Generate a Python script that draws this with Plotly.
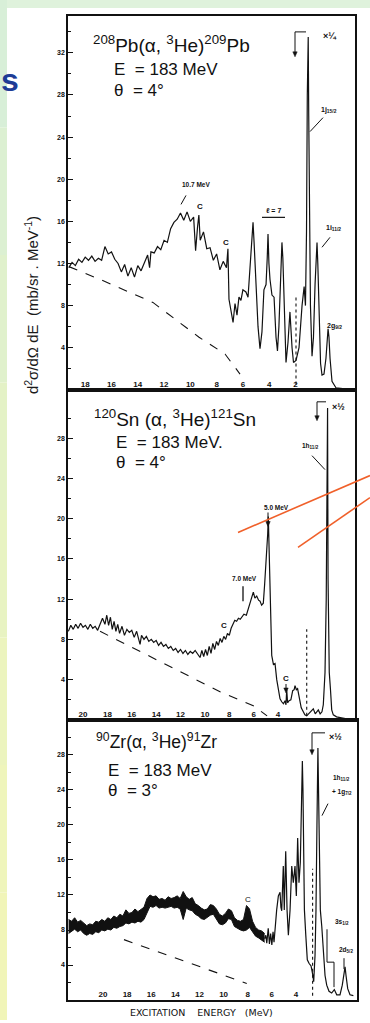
import plotly.graph_objects as go

W, H = 370, 1023
FONT = "Liberation Sans"
INK = "#111111"

# ---------------- data ----------------
# 208Pb(a,3He)209Pb : excitation energy (MeV) / cross section (mb/sr/MeV)
pb_energy = [19.25, 19.0, 18.75, 18.5, 18.25, 18.0, 17.75, 17.5, 17.25, 17.0,
             16.75, 16.5, 16.25, 16.0, 15.75, 15.5, 15.25, 15.0, 14.75, 14.5,
             14.25, 14.0, 13.75, 13.5, 13.25, 13.1, 13.0, 12.75, 12.5, 12.25,
             12.0, 11.75, 11.5, 11.25, 11.0, 10.75, 10.5, 10.25, 10.0, 9.75,
             9.6, 9.45, 9.35, 9.25, 9.0, 8.75, 8.5, 8.25, 8.0, 7.75,
             7.5, 7.25, 7.14, 7.06, 6.9, 6.75, 6.6, 6.45, 6.3, 6.15,
             6.0, 5.77, 5.61, 5.46, 5.30, 5.23, 5.15, 5.08, 4.85, 4.70,
             4.55, 4.40, 4.24, 4.15, 4.09, 4.02, 3.94, 3.79, 3.63, 3.48,
             3.37, 3.26, 3.10, 3.03, 2.96, 2.91, 2.80, 2.72, 2.57, 2.42,
             2.26, 2.15, 1.96, 1.73, 1.50, 1.34, 1.24, 1.16, 1.10, 1.07,
             1.03, 0.99, 0.94, 0.86, 0.74, 0.63, 0.51, 0.42, 0.36, 0.30,
             0.21, 0.09, -0.02, -0.17, -0.32, -0.42, -0.48, -0.55, -0.63, -0.78,
             -1.08, -1.77]
pb_sigma = [11.6, 12.1, 11.8, 12.4, 12.1, 12.6, 12.3, 12.7, 12.2, 12.5,
            12.3, 13.6, 12.9, 13.1, 12.4, 12.0, 11.2, 11.9, 10.8, 11.6,
            10.7, 11.8, 11.3, 12.0, 12.8, 11.6, 13.1, 13.0, 13.6, 13.3,
            14.2, 14.0, 15.3, 15.9, 16.2, 16.8, 16.1, 16.9, 16.0, 16.4,
            13.2, 15.5, 16.6, 14.2, 15.0, 13.4, 13.5, 12.3, 12.9, 11.4,
            12.2, 11.6, 13.4, 8.6, 7.6, 6.4, 8.2, 7.1, 8.8, 8.5,
            9.5, 9.3, 8.8, 12.0, 15.2, 15.9, 14.0, 12.0, 6.0, 3.9,
            5.5, 9.5, 10.0, 12.5, 14.8, 12.0, 10.5, 9.0, 8.8, 5.0,
            3.7, 6.0, 12.0, 14.0, 12.5, 10.0, 4.5, 2.6, 4.5, 7.4,
            4.0, 2.6, 2.8, 4.0, 8.0, 9.8, 8.0, 15.0, 28.0, 33.5,
            33.5, 26.0, 14.0, 8.0, 3.2, 5.0, 10.0, 13.0, 14.0, 12.0,
            8.0, 2.5, 1.4, 1.5, 3.0, 5.0, 5.8, 5.0, 3.0, 0.8,
            0.2, 0.1]
pb_bg_energy = [19.24, 16.9, 12.85, 9.34, 7.36, 6.22]
pb_bg_sigma = [11.7, 10.5, 8.3, 5.0, 3.4, 1.5]
pb_dotted_energy = [1.96, 1.96]
pb_dotted_sigma = [0.5, 8.8]

# 120Sn(a,3He)121Sn
sn_energy = [21.2, 21.0, 20.8, 20.6, 20.4, 20.2, 20.0, 19.8, 19.6, 19.4,
             19.2, 19.0, 18.8, 18.6, 18.4, 18.2, 18.05, 17.9, 17.75, 17.6,
             17.45, 17.3, 17.15, 17.0, 16.8, 16.6, 16.4, 16.2, 16.0, 15.8,
             15.6, 15.45, 15.32, 15.2, 15.0, 14.8, 14.6, 14.4, 14.2, 14.0,
             13.8, 13.6, 13.4, 13.2, 13.0, 12.8, 12.6, 12.4, 12.2, 12.0,
             11.8, 11.6, 11.4, 11.2, 11.0, 10.8, 10.6, 10.4, 10.25, 10.1,
             9.95, 9.8, 9.65, 9.5, 9.35, 9.2, 9.05, 8.9, 8.75, 8.6,
             8.45, 8.3, 8.15, 8.0, 7.85, 7.7, 7.55, 7.4, 7.25, 7.1,
             6.95, 6.8, 6.6, 6.45, 6.3, 6.15, 6.03, 5.9, 5.75, 5.6,
             5.48, 5.35, 5.21, 5.1, 4.93, 4.85, 4.8, 4.74, 4.66, 4.6,
             4.52, 4.38, 4.25, 4.11, 3.97, 3.84, 3.7, 3.56, 3.43, 3.35,
             3.29, 3.22, 3.1, 2.95, 2.8, 2.68, 2.61, 2.5, 2.4, 2.25,
             2.1, 1.93, 1.8, 1.65, 1.5, 1.3, 1.11, 0.95, 0.8, 0.7,
             0.55, 0.4, 0.29, 0.15, 0.05, -0.02, -0.06, -0.1, -0.2, -0.3,
             -0.4, -0.53, -0.8, -1.2, -1.63]
sn_sigma = [8.8, 9.4, 9.0, 9.5, 9.1, 9.6, 9.2, 9.4, 9.0, 9.5,
            9.1, 9.3, 8.9, 9.6, 10.1, 9.5, 10.4, 9.4, 10.2, 9.0,
            9.8, 8.8, 9.5, 8.6, 9.3, 8.4, 9.0, 8.7, 8.9, 8.2,
            8.8, 8.1, 7.5, 8.4, 8.0, 8.3, 7.8, 8.0, 7.7, 7.9,
            7.4, 7.7, 7.3, 7.5, 7.1, 7.3, 6.9, 7.1, 6.7, 7.0,
            6.6, 6.9, 6.5, 6.8, 6.6, 6.9, 6.5, 6.2, 6.9, 6.3,
            7.0, 6.4, 7.3, 6.6, 7.6, 7.0, 7.8, 7.4, 8.1, 7.7,
            8.3, 8.0, 8.6, 8.4, 9.1, 9.6, 9.9, 9.8, 10.1, 10.0,
            10.3, 10.5, 10.4, 11.0, 11.6, 12.2, 12.7, 12.1, 12.3, 11.9,
            11.8, 11.4, 11.6, 13.5, 16.3, 18.5, 20.2, 17.0, 14.5, 10.0,
            6.4, 5.5, 5.6, 4.0, 3.0, 2.1, 1.8, 1.6, 1.9, 1.5,
            3.0, 1.7, 1.9, 2.0, 2.9, 3.0, 3.4, 3.0, 3.1, 2.2,
            1.2, 0.8, 0.5, 0.4, 0.6, 0.9, 1.1, 0.6, 0.8, 1.0,
            0.6, 0.8, 1.5, 4.7, 12.0, 31.0, 31.0, 14.0, 4.7, 3.0,
            1.0, 0.5, 0.3, 0.2, 0.1]
sn_bg_energy = [18.6, 15.32, 12.03, 8.76, 6.03, 4.9]
sn_bg_sigma = [8.8, 6.8, 4.8, 2.8, 1.4, 0.4]
sn_dotted_energy = [1.65, 1.65]
sn_dotted_sigma = [0.4, 9.0]

# 90Zr(a,3He)91Zr : dense continuum given as upper/lower band edges
zr_band_energy = [22.85, 22.6, 22.35, 22.1, 21.85, 21.6, 21.35, 21.1, 20.85, 20.6,
                  20.35, 20.1, 19.85, 19.6, 19.35, 19.1, 18.85, 18.6, 18.35, 18.1,
                  17.85, 17.6, 17.35, 17.1, 16.85, 16.6, 16.35, 16.1, 15.85, 15.6,
                  15.35, 15.1, 14.85, 14.6, 14.35, 14.1, 13.85, 13.6, 13.35, 13.1,
                  12.85, 12.6, 12.35, 12.1, 11.85, 11.6, 11.35, 11.1, 10.85, 10.6,
                  10.35, 10.1, 9.85, 9.6, 9.35, 9.1, 8.85, 8.6, 8.35, 8.1,
                  7.85, 7.6, 7.35, 7.1, 6.85, 6.6]
zr_band_high = [9.2, 9.0, 9.4, 8.9, 9.1, 8.8, 8.5, 8.7, 8.6, 9.0,
                8.9, 9.2, 9.0, 9.4, 9.2, 9.6, 9.4, 9.8, 9.6, 10.3,
                9.9, 10.0, 10.4, 10.1, 10.3, 10.6, 11.6, 12.0, 11.8, 11.9,
                11.5, 11.6, 11.4, 11.8, 11.6, 11.7, 11.9, 11.6, 12.4, 11.8,
                11.5, 11.7, 11.0, 10.8, 10.5, 10.3, 10.4, 10.9, 10.8, 10.4,
                9.8, 9.6, 9.9, 10.4, 10.2, 9.4, 9.1, 9.0, 9.2, 10.8,
                10.4, 9.0, 8.3, 8.0, 7.9, 7.6]
zr_band_low = [7.6, 7.9, 8.1, 7.8, 8.0, 7.6, 7.4, 7.6, 7.5, 7.8,
               7.7, 8.0, 7.9, 8.1, 8.0, 8.3, 8.2, 8.4, 8.5, 8.8,
               8.7, 8.9, 8.8, 9.0, 8.9, 9.2, 10.0, 10.7, 10.6, 10.8,
               10.5, 10.6, 10.5, 10.6, 10.7, 10.5, 10.6, 10.4, 9.2, 10.5,
               10.3, 10.2, 9.8, 9.6, 9.3, 9.2, 9.4, 9.7, 9.8, 9.3,
               8.7, 8.6, 8.8, 9.3, 9.2, 8.4, 8.2, 8.0, 7.9, 8.0,
               8.3, 7.8, 7.3, 7.1, 6.8, 6.6]
zr_energy = [6.6, 6.5, 6.42, 6.3, 6.2, 6.1, 6.0, 5.9, 5.82, 5.74,
             5.6, 5.46, 5.32, 5.25, 5.18, 5.05, 4.97, 4.85, 4.74, 4.63,
             4.49, 4.35, 4.22, 4.08, 3.97, 3.86, 3.75, 3.64, 3.52, 3.47,
             3.42, 3.39, 3.3, 3.19, 3.06, 2.92, 2.75, 2.61, 2.53, 2.42,
             2.34, 2.26, 2.21, 2.18, 2.15, 2.08, 1.98, 1.86, 1.73, 1.59,
             1.45, 1.26, 1.04, 0.82, 0.62, 0.35, 0.16, 0.02, -0.07, -0.15,
             -0.29, -0.48, -0.76]
zr_sigma = [7.0, 7.4, 6.5, 8.2, 6.4, 7.6, 6.3, 7.8, 6.6, 8.1,
            10.3, 11.9, 12.3, 10.6, 10.2, 15.3, 10.3, 17.0, 10.3, 7.4,
            10.3, 15.3, 13.4, 15.3, 11.9, 18.5, 13.4, 15.7, 24.0, 27.3,
            24.0, 20.2, 10.3, 7.5, 4.6, 4.2, 3.9, 2.9, 2.1, 5.1,
            10.3, 20.0, 28.8, 28.8, 25.9, 16.1, 10.3, 8.4, 5.1, 2.8,
            1.7, 1.0, 0.8, 1.2, 0.6, 0.6, 1.7, 3.4, 3.8, 2.8,
            1.3, 0.6, 0.5]
zr_bg_energy = [18.26, 14.78, 12.04, 8.08]
zr_bg_sigma = [6.9, 5.2, 3.8, 1.9]
zr_dotted_energy = [2.62, 2.62]
zr_dotted_sigma = [0.5, 15.0]

# axis ticks
pb_xticks = [18, 16, 14, 12, 10, 8, 6, 4, 2]
sn_xticks = [20, 18, 16, 14, 12, 10, 8, 6, 4]
zr_xticks = [20, 18, 16, 14, 12, 10, 8, 6, 4]
pb_yticks = [0, 4, 8, 12, 16, 20, 24, 28, 32]
sn_yticks = [0, 4, 8, 12, 16, 20, 24, 28]
zr_yticks = [0, 4, 8, 12, 16, 20, 24, 28]

# ---------------- figure ----------------
fig = go.Figure()


def line_trace(x, y, ax, width=1.2, dash=None, color=INK):
    fig.add_trace(go.Scatter(x=x, y=y, mode="lines", xaxis=ax[0], yaxis=ax[1],
                             line=dict(color=color, width=width, dash=dash),
                             hoverinfo="skip", showlegend=False))


line_trace(pb_energy, pb_sigma, ("x", "y"))
line_trace(pb_bg_energy, pb_bg_sigma, ("x", "y"), width=1.1, dash="dash")
line_trace(pb_dotted_energy, pb_dotted_sigma, ("x", "y"), width=1.1, dash="dot")

line_trace(sn_energy, sn_sigma, ("x2", "y2"))
line_trace(sn_bg_energy, sn_bg_sigma, ("x2", "y2"), width=1.1, dash="dash")
line_trace(sn_dotted_energy, sn_dotted_sigma, ("x2", "y2"), width=1.1, dash="dot")

fig.add_trace(go.Scatter(x=zr_band_energy, y=zr_band_low, mode="lines", xaxis="x3", yaxis="y3",
                         line=dict(color=INK, width=1), hoverinfo="skip", showlegend=False))
fig.add_trace(go.Scatter(x=zr_band_energy, y=zr_band_high, mode="lines", xaxis="x3", yaxis="y3",
                         line=dict(color=INK, width=1), fill="tonexty", fillcolor=INK,
                         hoverinfo="skip", showlegend=False))
line_trace(zr_energy, zr_sigma, ("x3", "y3"))
line_trace(zr_bg_energy, zr_bg_sigma, ("x3", "y3"), width=1.1, dash="dash")
line_trace(zr_dotted_energy, zr_dotted_sigma, ("x3", "y3"), width=1.1, dash="dot")


def px(x):
    return x / W


def py(y):
    return 1 - y / H


def xaxis(x0, x1, rng, ticks, anchor):
    return dict(domain=[px(x0), px(x1)], range=rng, anchor=anchor,
                tickmode="array", tickvals=ticks, ticks="", ticklabelposition="inside",
                tickfont=dict(family=FONT, size=8, color=INK, weight="bold"),
                showline=True, linecolor=INK, linewidth=1.5, mirror=True,
                showgrid=False, zeroline=False)


def yaxis(y_top, y_bottom, rng, ticks, anchor):
    minor_vals = [t + 2 for t in ticks]
    return dict(domain=[py(y_bottom), py(y_top)], range=rng, anchor=anchor,
                tickmode="array", tickvals=ticks, ticks="inside", ticklen=5,
                tickwidth=1, tickcolor=INK,
                minor=dict(tickmode="array", tickvals=minor_vals, ticks="inside",
                           ticklen=3, tickwidth=1, tickcolor=INK),
                tickfont=dict(family=FONT, size=7, color=INK, weight="bold"),
                showline=True, linecolor=INK, linewidth=1.5, mirror=True,
                showgrid=False, zeroline=False)


shapes = []
annotations = []


def seg(x0, y0, x1, y1, color=INK, width=1.0, dash=None):
    shapes.append(dict(type="line", xref="paper", yref="paper",
                       x0=px(x0), y0=py(y0), x1=px(x1), y1=py(y1),
                       line=dict(color=color, width=width, dash=dash)))


def label(text, x, y, size=8, xanchor="center", color=INK, weight="normal", family=FONT):
    annotations.append(dict(text=text, x=px(x), y=py(y), xref="paper", yref="paper",
                            showarrow=False, xanchor=xanchor, yanchor="middle",
                            font=dict(family=family, size=size, color=color, weight=weight)))


def down_arrow(x, y_from, y_to):
    """vertical pointer with a small filled head (drawn as shapes)"""
    seg(x, y_from, x, y_to - 3)
    shapes.append(dict(type="path", xref="paper", yref="paper",
                       path="M {a},{b} L {c},{b} L {d},{e} Z".format(
                           a=px(x - 2.2), b=py(y_to - 5), c=px(x + 2.2), d=px(x), e=py(y_to)),
                       fillcolor=INK, line=dict(color=INK, width=0.5)))


# slide background remnants (green / yellow frame)
shapes.append(dict(type="rect", xref="paper", yref="paper", x0=0, x1=1, y0=py(8), y1=1,
                   fillcolor="#dff2dc", line=dict(width=0), layer="below"))
band_cols = ["#d8efd8", "#dcf0d2", "#e0f1cc", "#e4f2c6", "#e8f3c2", "#ecf4be", "#eff5bb", "#f1f5b8"]
n = len(band_cols)
for i, c in enumerate(band_cols):
    shapes.append(dict(type="rect", xref="paper", yref="paper", x0=0, x1=px(7),
                       y0=py((i + 1) * H / n), y1=py(i * H / n),
                       fillcolor=c, line=dict(width=0), layer="below"))
label("s", 10, 80, size=32, color="#1e3c96", weight="bold", family="Liberation Sans")

# ---- Pb panel texts
label("<sup>208</sup>Pb(α, <sup>3</sup>He)<sup>209</sup>Pb", 91, 44, size=19, xanchor="left")
label("E  = 183 MeV", 112, 70, size=17, xanchor="left")
label("θ  = 4°", 112, 91, size=17, xanchor="left")
label("10.7 MeV", 196, 185, size=6.5, weight="bold")
seg(186, 196, 181, 205)
label("C", 200, 207, size=8, weight="bold")
label("C", 226, 243, size=8, weight="bold")
label("ℓ = 7", 273, 211, size=7, weight="bold")
seg(262, 218, 285, 218, width=1.2)
label("1j<sub>15/2</sub>", 329, 110, size=7, weight="bold")
seg(323, 118, 310, 132)
label("1i<sub>11/2</sub>", 333, 229, size=7, weight="bold")
seg(330, 238, 322, 248)
label("2g<sub>9/2</sub>", 334, 327, size=7, weight="bold")
seg(295, 32, 306, 32)
down_arrow(295, 32, 57)
label("×¼", 330, 36, size=9, weight="bold")

# ---- Sn panel texts
label("<sup>120</sup>Sn (α, <sup>3</sup>He)<sup>121</sup>Sn", 92, 419, size=19, xanchor="left")
label("E  = 183 MeV.", 114, 444, size=17, xanchor="left")
label("θ  = 4°", 114, 464, size=17, xanchor="left")
label("7.0 MeV", 244, 580, size=6.5, weight="bold")
seg(243, 588, 243, 603, width=1.3)
label("5.0 MeV", 276, 509, size=6.5, weight="bold")
down_arrow(268, 514, 528)
label("C", 224, 627, size=8, weight="bold")
label("C", 286, 680, size=8, weight="bold")
down_arrow(286, 686, 695)
label("1h<sub>11/2</sub>", 310, 447, size=6.5, weight="bold")
seg(312, 457, 325, 471)
seg(317, 403, 326, 403)
down_arrow(317, 403, 422)
label("×½", 338, 408, size=9, weight="bold")

# ---- Zr panel texts
label("<sup>90</sup>Zr(α, <sup>3</sup>He)<sup>91</sup>Zr", 94, 743, size=17.5, xanchor="left")
label("E  = 183 MeV", 106, 773, size=17, xanchor="left")
label("θ  = 3°", 106, 793, size=17, xanchor="left")
label("C", 248, 902, size=8)
seg(312, 735, 325, 735)
down_arrow(312, 735, 757)
label("×½", 335, 739, size=9, weight="bold")
label("1h<sub>11/2</sub>", 341, 780, size=6.5, weight="bold")
label("+ 1g<sub>7/2</sub>", 342, 794, size=6.5, weight="bold")
seg(328, 806, 322, 818)
label("3s<sub>1/2</sub>", 342, 925, size=6.5, weight="bold")
seg(327, 932, 327, 965)
seg(327, 965, 334, 965)
seg(334, 965, 334, 990)
label("2d<sub>5/2</sub>", 346, 953, size=6.5, weight="bold")
seg(344, 961, 344, 972)

# axis titles
annotations.append(dict(text="d<sup>2</sup>σ/dΩ dE  (mb/sr . MeV<sup>-1</sup>)",
                        x=px(31), y=py(306), xref="paper", yref="paper", showarrow=False,
                        textangle=-90, xanchor="center", yanchor="middle",
                        font=dict(family=FONT, size=15, color="#1a1a1a")))
label("EXCITATION    ENERGY   (MeV)", 201, 1015, size=9.5, family="DejaVu Sans")

# orange pointer lines drawn on the slide
seg(238, 534, 370, 477, color="#f0602a", width=1.6)
seg(298, 549, 370, 499, color="#f0602a", width=1.6)

fig.update_layout(
    width=W, height=H, margin=dict(l=0, r=0, t=0, b=0),
    paper_bgcolor="white", plot_bgcolor="white",
    xaxis=xaxis(68, 355, [19.31, -2.53], pb_xticks, "y"),
    yaxis=yaxis(16, 391, [0, 35.5], pb_yticks, "x"),
    xaxis2=xaxis(68, 355, [21.23, -2.31], sn_xticks, "y2"),
    yaxis2=yaxis(391, 722, [0, 32.8], sn_yticks, "x2"),
    xaxis3=xaxis(68, 357, [22.90, -1.06], zr_xticks, "y3"),
    yaxis3=yaxis(722, 1003, [0, 32.0], zr_yticks, "x3"),
    shapes=shapes, annotations=annotations,
)

fig.write_html("out.html")
